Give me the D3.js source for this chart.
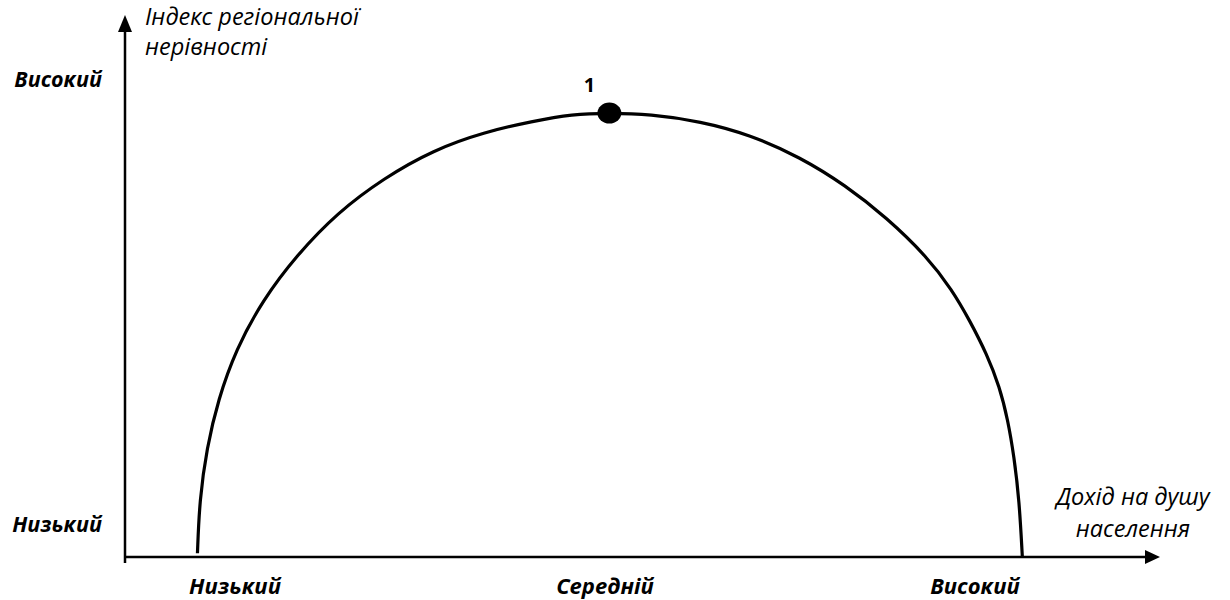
<!DOCTYPE html>
<html>
<head>
<meta charset="utf-8">
<script src="https://cdn.jsdelivr.net/npm/d3@7"></script>
<style>
    body { margin: 0; background: #fff; }
    text { font-family: "Open Sans", Lato, sans-serif; fill: #000; }
</style>
</head>
<body>
<div id="chart"></div>
<script>
// Curve: income (x) vs regional inequality index (y), 0..100
var curveX = [7.0, 7.2, 7.9, 9.0, 10.7, 13.3, 16.6, 20.5, 25.0, 29.8, 34.7, 39.4, 43.2, 46.8,
    50.7, 55.6, 60.4, 65.2, 69.6, 73.6, 77.5, 79.9, 81.6, 83.3, 84.5, 85.3, 85.9, 86.4, 86.7];
var curveY = [0.7, 10.5, 20.1, 29.0, 38.2, 47.4, 55.7, 63.5, 69.9, 75.1, 78.4, 80.4, 81.7, 81.9,
    81.7, 80.4, 77.9, 73.8, 68.6, 62.6, 55.4, 49.3, 43.7, 37.3, 31.4, 25.3, 18.5, 10.5, 0.0];

// the marked point (peak)
var markX = [46.8];
var markY = [81.9];
var markLabel = ["1"];

// axis levels and titles
var xLevels = ["Низький", "Середній", "Високий"];
var yLevels = ["Низький", "Високий"];
var yTitle = ["Індекс регіональної", "нерівності"];
var xTitle = ["Дохід на душу", "населення"];

var width = 1230, height = 600;

var svg = d3
    .select('#chart')
    .append('svg')
    .attr('width', width)
    .attr('height', height);

var x = d3.scaleLinear()
    .domain([0, 100])
    .range([125, 1160]);

var y = d3.scaleLinear()
    .domain([0, 100])
    .range([557, 15]);

var xPos = d3.scalePoint()
    .domain(xLevels)
    .range([235, 975]);

var yPos = d3.scalePoint()
    .domain(yLevels)
    .range([526, 81]);

// Axes with arrow heads
svg.append("line")
    .attr("x1", x(0)).attr("y1", y(0) + 6)
    .attr("x2", x(0)).attr("y2", y(100) + 14)
    .attr("stroke", "#000")
    .attr("stroke-width", 2.5);

svg.append("path")
    .attr("d", "M" + x(0) + "," + y(100) + "L" + (x(0) - 7) + "," + (y(100) + 17) + "L" + (x(0) + 7) + "," + (y(100) + 17) + "Z")
    .attr("fill", "#000");

svg.append("line")
    .attr("x1", x(0) - 1).attr("y1", y(0))
    .attr("x2", x(100) - 12).attr("y2", y(0))
    .attr("stroke", "#000")
    .attr("stroke-width", 2.5);

svg.append("path")
    .attr("d", "M" + x(100) + "," + y(0) + "L" + (x(100) - 15) + "," + (y(0) - 7) + "L" + (x(100) - 15) + "," + (y(0) + 7) + "Z")
    .attr("fill", "#000");

// The curve
var pts = curveX.map(function (d, i) { return [d, curveY[i]]; });

var line = d3.line()
    .x(function (d) { return x(d[0]); })
    .y(function (d) { return y(d[1]); })
    .curve(d3.curveBasis);

svg.append("path")
    .datum(pts)
    .attr("d", line)
    .attr("fill", "none")
    .attr("stroke", "#000")
    .attr("stroke-width", 3.2);

// marked point
svg.selectAll(".mark")
    .data(markX)
    .enter()
    .append("ellipse")
    .attr("class", "mark")
    .attr("cx", function (d) { return x(d); })
    .attr("cy", function (d, i) { return y(markY[i]); })
    .attr("rx", 12)
    .attr("ry", 10.5)
    .attr("fill", "#000");

svg.selectAll(".mark-label")
    .data(markX)
    .enter()
    .append("text")
    .attr("class", "mark-label")
    .attr("x", function (d) { return x(d) - 20; })
    .attr("y", function (d, i) { return y(markY[i]) - 21; })
    .attr("text-anchor", "middle")
    .style("font-weight", "bold")
    .style("font-size", "20px")
    .text(function (d, i) { return markLabel[i]; });

// level labels
svg.selectAll(".x-level")
    .data(xLevels)
    .enter()
    .append("text")
    .attr("class", "x-level")
    .attr("x", function (d) { return xPos(d); })
    .attr("y", 594)
    .attr("text-anchor", "middle")
    .style("font-weight", "bold")
    .style("font-style", "italic")
    .style("font-size", "22px")
    .text(function (d) { return d; });

svg.selectAll(".y-level")
    .data(yLevels)
    .enter()
    .append("text")
    .attr("class", "y-level")
    .attr("x", 102)
    .attr("y", function (d) { return yPos(d) + 6; })
    .attr("text-anchor", "end")
    .style("font-weight", "bold")
    .style("font-style", "italic")
    .style("font-size", "21.5px")
    .text(function (d) { return d; });

// axis titles
svg.append("text")
    .attr("class", "y-axis-title")
    .style("font-style", "italic")
    .style("font-size", "23.5px")
    .selectAll("tspan")
    .data(yTitle)
    .enter()
    .append("tspan")
    .attr("x", 145)
    .attr("y", function (d, i) { return 25 + i * 30; })
    .text(function (d) { return d; });

svg.append("text")
    .attr("class", "x-axis-title")
    .attr("text-anchor", "middle")
    .style("font-style", "italic")
    .style("font-size", "23.5px")
    .selectAll("tspan")
    .data(xTitle)
    .enter()
    .append("tspan")
    .attr("x", 1133)
    .attr("y", function (d, i) { return 505 + i * 32; })
    .text(function (d) { return d; });
</script>
</body>
</html>
